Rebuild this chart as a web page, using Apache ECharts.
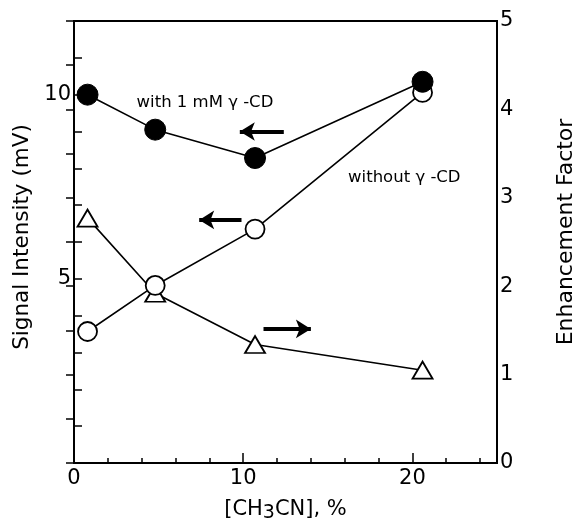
<!DOCTYPE html>
<html>
<head>
<meta charset="utf-8">
<script src="https://cdn.jsdelivr.net/npm/echarts@6/dist/echarts.min.js"></script>
<style>
  html, body { margin: 0; padding: 0; background: #fff; }
  #chart { width: 585px; height: 532px; }
</style>
</head>
<body>
<div id="chart"></div>
<script>
// [CH3CN], %
var conc = [0.8, 4.8, 10.7, 20.6];
// signal intensity (mV), left axis
var withCD = [10.0, 9.05, 8.28, 10.35];
var withoutCD = [3.57, 4.82, 6.35, 10.06];
// enhancement factor, right axis
var enhancement = [2.77, 1.92, 1.34, 1.05];

// annotation arrows, in data coords of the left axis [from, to]
var arrowWith = [[12.4, 9.0], [9.8, 9.0]];
var arrowWithout = [[9.9, 6.6], [7.4, 6.6]];
var arrowEnh = [[11.2, 3.64], [14.0, 3.64]];
var noteWith = {text: 'with 1 mM \u03b3 -CD', at: [3.7, 9.77]};
var noteWithout = {text: 'without \u03b3 -CD', at: [16.2, 7.75]};

var font = 'DejaVu Sans, Liberation Sans, sans-serif';

function pairs(xs, ys) {
  var out = [];
  for (var i = 0; i < xs.length; i++) out.push([xs[i], ys[i]]);
  return out;
}

function arrow(a) {
  return [{coord: a[0]}, {coord: a[1]}];
}

function note(n) {
  return {name: n.text, coord: n.at};
}

var chart = echarts.init(document.getElementById('chart'));

chart.setOption({
  animation: false,
  backgroundColor: '#fff',
  grid: {
    left: 74, right: 68, top: 21, bottom: 69,
    show: true, borderColor: '#000', borderWidth: 2
  },
  xAxis: [
    {
      type: 'value', min: 0, max: 25, interval: 2,
      name: '{a|[CH}{s|3}{a|CN], %}',
      nameLocation: 'middle', nameGap: 33,
      nameTextStyle: {
        rich: {
          a: {fontFamily: font, fontSize: 21, color: '#000'},
          s: {fontFamily: font, fontSize: 19, color: '#000', padding: [8, 0, 0, 0]}
        }
      },
      axisLine: {lineStyle: {color: '#000', width: 2}},
      axisTick: {inside: true, length: 5, lineStyle: {color: '#000', width: 1.5}},
      axisLabel: {
        fontFamily: font, fontSize: 21, color: '#000', margin: 5,
        formatter: function (v) { return v % 10 === 0 ? v : ''; }
      },
      splitLine: {show: false}
    },
    {
      type: 'value', min: 0, max: 25, interval: 10, position: 'bottom',
      axisLine: {show: false},
      axisTick: {inside: true, length: 10, lineStyle: {color: '#000', width: 1.5}},
      axisLabel: {show: false},
      splitLine: {show: false}
    }
  ],
  yAxis: [
    {
      type: 'value', min: 0, max: 12, interval: 1, position: 'left',
      name: 'Signal Intensity (mV)',
      nameLocation: 'middle', nameGap: 41, nameRotate: 90,
      nameTextStyle: {fontFamily: font, fontSize: 21.5, color: '#000', padding: [0, 0, 0, 10]},
      axisLine: {show: true, lineStyle: {color: '#000', width: 2}},
      axisTick: {inside: true, length: 8, lineStyle: {color: '#000', width: 1.5}},
      axisLabel: {
        fontFamily: font, fontSize: 21, color: '#000', margin: 3,
        formatter: function (v) { return (v === 5 || v === 10) ? v : ''; }
      },
      splitLine: {show: false}
    },
    {
      type: 'value', min: 0, max: 5, interval: 0.5, position: 'right',
      name: 'Enhancement Factor',
      nameLocation: 'middle', nameGap: 58, nameRotate: 90,
      nameTextStyle: {fontFamily: font, fontSize: 22, color: '#000', padding: [0, 0, 0, 20]},
      axisLine: {show: true, lineStyle: {color: '#000', width: 2}},
      axisTick: {inside: true, length: 8, lineStyle: {color: '#000', width: 1.5}},
      axisLabel: {
        fontFamily: font, fontSize: 21, color: '#000', margin: 3,
        formatter: function (v) { return v % 1 === 0 ? v : ''; }
      },
      splitLine: {show: false}
    }
  ],
  series: [
    {
      name: 'enhancement', type: 'line', yAxisIndex: 1, z: 2,
      data: pairs(conc, enhancement),
      symbol: 'triangle', symbolSize: [20, 17],
      lineStyle: {color: '#000', width: 1.6},
      itemStyle: {color: '#fff', borderColor: '#000', borderWidth: 1.8}
    },
    {
      name: 'without', type: 'line', yAxisIndex: 0, z: 3,
      data: pairs(conc, withoutCD),
      symbol: 'circle', symbolSize: 19,
      lineStyle: {color: '#000', width: 1.6},
      itemStyle: {color: '#fff', borderColor: '#000', borderWidth: 1.8},
      markLine: {
        silent: true, symbol: ['none', 'arrow'], symbolSize: [14, 15],
        lineStyle: {color: '#000', width: 4, type: 'solid'},
        label: {show: false},
        data: [arrow(arrowWith), arrow(arrowWithout), arrow(arrowEnh)]
      },
      markPoint: {
        silent: true, symbolSize: 0,
        label: {
          show: true, position: 'right', distance: 0, formatter: '{b}',
          fontFamily: font, fontSize: 16.5, color: '#000'
        },
        data: [note(noteWith), note(noteWithout)]
      }
    },
    {
      name: 'with', type: 'line', yAxisIndex: 0, z: 4,
      data: pairs(conc, withCD),
      symbol: 'circle', symbolSize: 21,
      lineStyle: {color: '#000', width: 1.6},
      itemStyle: {color: '#000', borderColor: '#000', borderWidth: 1}
    }
  ]
});
</script>
</body>
</html>
